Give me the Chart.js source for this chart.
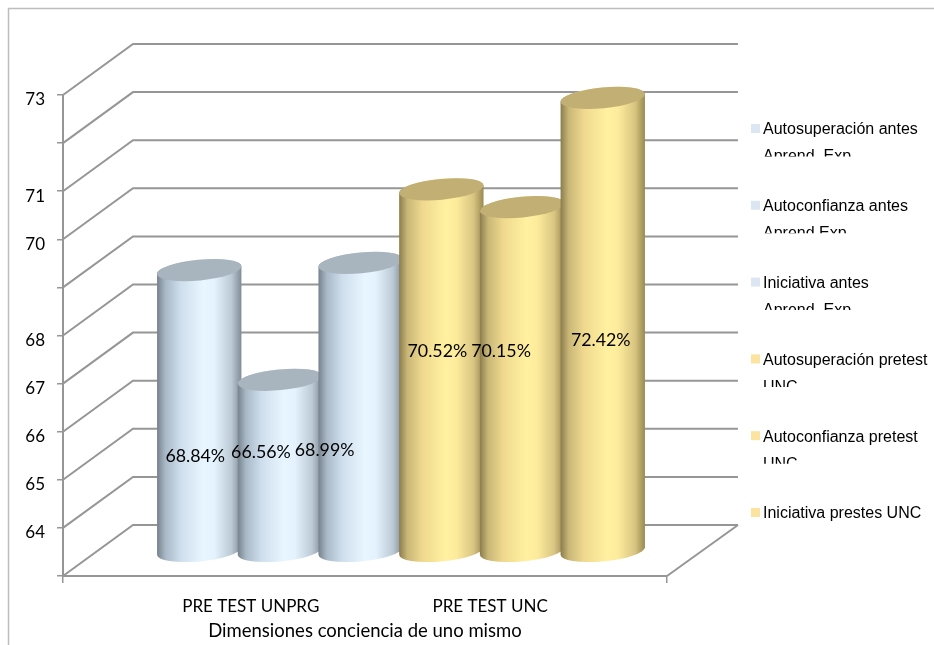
<!DOCTYPE html>
<html>
<head>
<meta charset="utf-8">
<style>
  html, body { margin: 0; padding: 0; background: #fff; }
  canvas { display: block; }
</style>
<script src="https://cdn.jsdelivr.net/npm/chart.js@4"></script>
</head>
<body>
<canvas id="conciencia" width="934" height="645"></canvas>
<script>
const categories = ['PRE TEST UNPRG', 'PRE TEST UNC'];
const seriesNames = [
    'Autosuperación antes\nAprend. Exp.',
    'Autoconfianza antes\nAprend.Exp',
    'Iniciativa antes\nAprend. Exp',
    'Autosuperación pretest\nUNC',
    'Autoconfianza pretest\nUNC',
    'Iniciativa prestes UNC'
];
const seriesValues = [68.84, 66.56, 68.99, 70.52, 70.15, 72.42];
const yTickLabels = [73, 71, 70, 68, 67, 66, 65, 64];
const axisTitle = 'Dimensiones conciencia de uno mismo';

const labelFont = '17.8px Lato, sans-serif';
const legendFont = '16px "Liberation Sans", Arial, sans-serif';
const gridColor = '#969696';

// depth of the 3D box, cylinders stand half way in
const depthX = 70;
const depthY = 51;
const barShiftX = 36;
const barShiftY = 25;
const tilt = -5.5 * Math.PI / 180;
const capRy = 10.4;

const blueRamp = ['#75818c', '#a9b8c6', '#cfdeec', '#e8f6ff', '#e3f2fd', '#bccad6', '#7f8b95'];
const yellowRamp = ['#8a7b4c', '#c9b777', '#f0d98f', '#fff1a0', '#fdeb9c', '#d9c582', '#98894f'];
const capColors = ['#a9b5be', '#c2af74'];
const swatchColors = ['#dce6f2', '#fce4a0'];

// where each percentage sits relative to the top of its cylinder
const valueLabelNudge = [[-4, 186], [-19, 73], [-36, 187], [-4, 162], [-21, 144], [-2, 242]];
const legendTop = 130;
const legendStep = 76.8;

function drawCylinder(ctx, cx, topY, baseY, width, ramp, capColor) {
    const rx = width / 2;
    const t0 = Math.atan(-(capRy / rx) * Math.tan(tilt));
    const grad = ctx.createLinearGradient(cx - rx, 0, cx + rx, 0);
    const stops = [0, 0.1, 0.28, 0.55, 0.68, 0.88, 1];
    stops.forEach((s, i) => grad.addColorStop(s, ramp[i]));

    ctx.beginPath();
    ctx.ellipse(cx, baseY, rx, capRy, tilt, t0, t0 + Math.PI);
    ctx.ellipse(cx, topY, rx, capRy, tilt, t0 + Math.PI, t0 + 2 * Math.PI);
    ctx.closePath();
    ctx.fillStyle = grad;
    ctx.fill();

    ctx.beginPath();
    ctx.ellipse(cx, topY, rx, capRy, tilt, 0, 2 * Math.PI);
    ctx.fillStyle = capColor;
    ctx.fill();
}

const box3d = {
    id: 'box3d',
    beforeDraw(chart) {
        const ctx = chart.ctx;
        ctx.save();
        ctx.strokeStyle = '#bdbdbd';
        ctx.lineWidth = 1.5;
        ctx.beginPath();
        ctx.moveTo(8.5, chart.height);
        ctx.lineTo(8.5, 8.5);
        ctx.lineTo(chart.width, 8.5);
        ctx.stroke();
        ctx.restore();
    },
    beforeDatasetsDraw(chart) {
        const ctx = chart.ctx;
        const { left, right, bottom } = chart.chartArea;
        const yScale = chart.scales.y;

        ctx.save();
        ctx.strokeStyle = gridColor;
        ctx.lineWidth = 2;
        yScale.ticks.forEach(tick => {
            const y = yScale.getPixelForValue(tick.value);
            ctx.beginPath();
            ctx.moveTo(left, y);
            ctx.lineTo(left + depthX, y - depthY);
            ctx.lineTo(right + depthX + 1, y - depthY);
            ctx.stroke();
        });
        ctx.beginPath();
        ctx.moveTo(right, bottom);
        ctx.lineTo(right + depthX + 1, bottom - depthY);
        ctx.stroke();

        chart.data.datasets.forEach((ds, i) => {
            const bar = chart.getDatasetMeta(i).data[0];
            const isBlue = i < 3;
            drawCylinder(ctx, bar.x + barShiftX, bar.y - barShiftY, bottom - barShiftY, bar.width,
                isBlue ? blueRamp : yellowRamp, isBlue ? capColors[0] : capColors[1]);
        });

        ctx.fillStyle = '#000';
        ctx.font = labelFont;
        ctx.textAlign = 'center';
        ctx.textBaseline = 'middle';
        chart.data.datasets.forEach((ds, i) => {
            const bar = chart.getDatasetMeta(i).data[0];
            const nudge = valueLabelNudge[i];
            ctx.fillText(ds.data[0].toFixed(2) + '%', bar.x + barShiftX + nudge[0], bar.y - barShiftY + nudge[1]);
        });
        ctx.restore();
        return false; // cylinders replace the flat bars
    },
    afterDraw(chart) {
        const ctx = chart.ctx;
        ctx.save();
        ctx.font = legendFont;
        ctx.textBaseline = 'middle';
        chart.data.datasets.forEach((ds, i) => {
            const y = legendTop + i * legendStep;
            ctx.fillStyle = ds.backgroundColor;
            ctx.fillRect(751, y - 6, 9, 9);
            ctx.fillStyle = '#000';
            // the second line only shows as far as the entry's box allows
            ctx.save();
            ctx.beginPath();
            ctx.rect(760, y - 15, 174, 41.5);
            ctx.clip();
            ds.label.split('\n').forEach((line, n) => {
                ctx.fillText(line, 763, y + n * 27);
            });
            ctx.restore();
        });
        ctx.restore();
    }
};

const datasets = seriesNames.map((name, i) => ({
    label: name,
    data: [seriesValues[i]],
    backgroundColor: i < 3 ? swatchColors[0] : swatchColors[1]
}));

new Chart(document.getElementById('conciencia').getContext('2d'), {
    type: 'bar',
    data: {
        labels: [categories.join(' '.repeat(26))],
        datasets: datasets
    },
    plugins: [box3d],
    options: {
        responsive: false,
        animation: false,
        categoryPercentage: 0.8017,
        barPercentage: 1.05,
        layout: {
            autoPadding: false,
            padding: { left: 0, right: 267, top: 95, bottom: 0 }
        },
        plugins: {
            legend: { display: false },
            tooltip: { enabled: false }
        },
        scales: {
            x: {
                afterFit(scale) { scale.height = 69; },
                border: { color: gridColor, width: 2 },
                grid: { offset: true, drawOnChartArea: false, color: gridColor, lineWidth: 1.5, tickLength: 7 },
                ticks: {
                    color: '#000',
                    font: { family: 'Lato, sans-serif', size: 17 },
                    maxRotation: 0,
                    autoSkip: false,
                    labelOffset: 0,
                    padding: 13
                },
                title: {
                    display: true,
                    text: axisTitle,
                    color: '#000',
                    font: { family: 'Lato, sans-serif', size: 18.5 },
                    padding: { top: 0, bottom: 3 }
                }
            },
            y: {
                min: 63,
                max: 73,
                afterFit(scale) { scale.width = 63; },
                border: { color: gridColor, width: 2 },
                grid: { drawOnChartArea: false, color: gridColor, lineWidth: 1.5, tickLength: 6 },
                ticks: {
                    stepSize: 1,
                    color: '#000',
                    font: { family: 'Lato, sans-serif', size: 17 },
                    padding: 12,
                    labelOffset: 5,
                    callback: value => yTickLabels.includes(value) ? value : ''
                }
            }
        }
    }
});
</script>
</body>
</html>
